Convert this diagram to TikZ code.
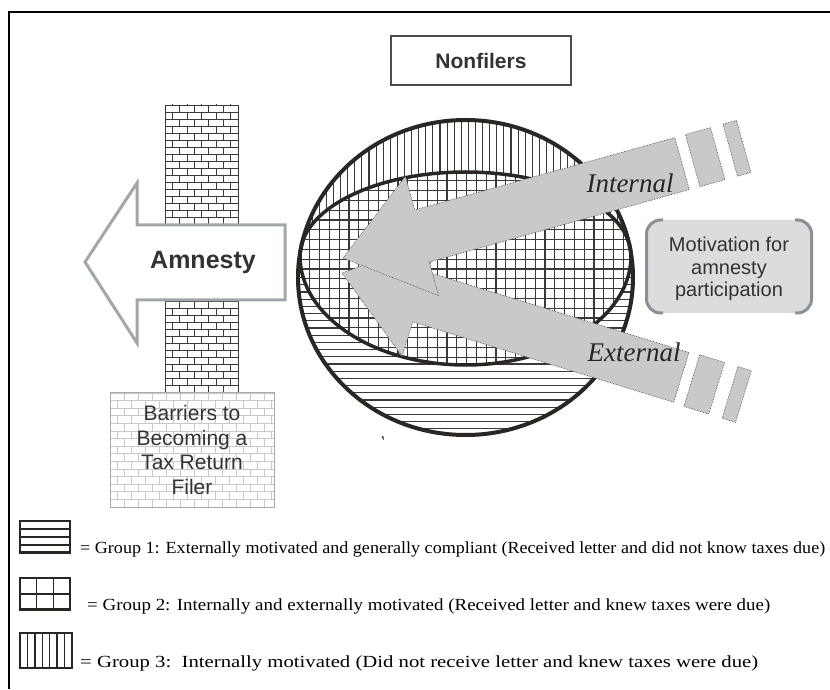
\documentclass[tikz,border=0pt]{standalone}
\usepackage{fontspec}
\newfontfamily\sansf{Liberation Sans}
\newfontfamily\legendfont{Liberation Serif}
\usetikzlibrary{calc}
\definecolor{outlinec}{HTML}{2A2624}
\definecolor{hatchc}{HTML}{3C3838}
\definecolor{arrowfillc}{HTML}{C9C9C9}
\definecolor{amnestyc}{HTML}{A2A7AC}
\definecolor{bracketc}{HTML}{8A9098}
\definecolor{motfillc}{HTML}{DCDCDE}
\definecolor{textgrayc}{HTML}{333333}
\definecolor{lightbrickc}{HTML}{C8C8C8}
\definecolor{darkbrickc}{HTML}{3A3A3A}
\newcommand{\legendtext}[2]{\resizebox{#1}{\height}{#2}}
\tikzset{
  x=1pt,y=1pt,
  hatchline/.style={draw=hatchc,line width=1.1pt},
  gridline/.style={draw=hatchc,line width=1.1pt},
  darkbrick/.style={draw=darkbrickc,line width=0.8pt},
  lightbrick/.style={draw=lightbrickc,line width=0.8pt},
  bigcircle/.style={draw=outlinec,line width=4pt},
  innerarc/.style={draw=outlinec,line width=3.5pt},
  motarrow/.style={fill=arrowfillc,draw=darkbrickc,densely dotted,line width=0.6pt},
  sanslabel/.style={font=\sansf\fontsize{21}{24.5}\selectfont,text=textgrayc,align=center},
  italiclabel/.style={font=\legendfont\itshape\fontsize{27}{30}\selectfont,text=black!85},
  legendtxt/.style={anchor=base west,inner sep=0pt,font=\legendfont\fontsize{17}{19}\selectfont},
  swatch/.style={draw=outlinec,line width=2.5pt},
  swatchin/.style={draw=outlinec,line width=1.4pt},
}
\begin{document}
\begin{tikzpicture}
\useasboundingbox (0,0) rectangle (830,689);
\fill[white] (0,0) rectangle (830,689);
% frame
\draw[line width=2.5pt] (9,0) -- (9,677) -- (830,677);

% Nonfilers
\node[draw=black!70,line width=1.3pt,minimum width=180pt,minimum height=49pt,
  font=\sansf\bfseries\fontsize{21}{24}\selectfont,text=textgrayc] (nonfilers) at (481,628.5) {Nonfilers};

% dark brick column
\begin{scope}
\clip (165,297) rectangle (238,584);
\foreach \i in {0,...,41} {
  \pgfmathsetmacro\rowy{297+7*\i}
  \pgfmathsetmacro\bxoff{mod(\i,2)*7.3}
  \draw[darkbrick] (165,\rowy) -- (238,\rowy);
  \foreach \k in {0,...,5} {\draw[darkbrick] ({165+\bxoff+14.6*\k},\rowy) -- ++(0,7);}
}
\end{scope}
\draw[darkbrick] (165,297) rectangle (238,584);

% light brick box
\begin{scope}
\clip (110,182) rectangle (274,296);
\foreach \i in {0,...,15} {
  \pgfmathsetmacro\rowy{182+7.6*\i}
  \pgfmathsetmacro\bxoff{mod(\i,2)*7}
  \draw[lightbrick] (110,\rowy) -- (274,\rowy);
  \foreach \k in {0,...,12} {\draw[lightbrick] ({110+\bxoff+14*\k},\rowy) -- ++(0,7.6);}
}
\end{scope}
\draw[draw=lightbrickc!85!black,line width=1pt] (110,182) rectangle (274,296);
\node[sanslabel] (barriers) at (192,239) {Barriers to\\Becoming a\\Tax Return\\Filer};

% Amnesty arrow
\draw[draw=amnestyc,fill=white,line width=3pt,line join=miter]
  (85,427) -- (137,506) -- (137,464) -- (285,464) -- (285,389) -- (137,389) -- (137,346) -- cycle;
\node[font=\sansf\bfseries\fontsize{25}{28}\selectfont,text=textgrayc] (amnesty) at (203,427) {Amnesty};

% circle hatching
\begin{scope}
\clip (465.5,411.5) ellipse [x radius=167.5, y radius=157.5];
\foreach \x in {0,...,48} \draw[hatchline] ({298+7.1*\x},433) -- ({298+7.1*\x},575);
\foreach \y in {0,...,27} \draw[hatchline] (290,{433-7.2*\y}) -- (640,{433-7.2*\y});
\end{scope}
% lens (group 2 grid)
\fill[white] (300,433) arc[start angle=180,end angle=0,x radius=165.5,y radius=84]
  arc[start angle=0,end angle=-180,x radius=165.5,y radius=109] -- cycle;
\begin{scope}
\clip (300,433) arc[start angle=180,end angle=0,x radius=165.5,y radius=84]
  arc[start angle=0,end angle=-180,x radius=165.5,y radius=109] -- cycle;
\foreach \x in {0,...,34} \draw[gridline] ({300+9.8*\x},320) -- ({300+9.8*\x},520);
\foreach \y in {0,...,21} \draw[gridline] (295,{322+9.8*\y}) -- (640,{322+9.8*\y});
\end{scope}
\draw[innerarc] (300,433) arc[start angle=180,end angle=0,x radius=165.5,y radius=84];
\draw[innerarc] (300,433) arc[start angle=180,end angle=360,x radius=165.5,y radius=109];
\draw[bigcircle] (465.5,411.5) ellipse [x radius=167.5, y radius=157.5];
\draw[line width=1.2pt,outlinec] (382.6,253) -- (383.4,249.5);

% External arrow
\begin{scope}[shift={(342,416)},rotate=-17.1]
\path[motarrow] (0,0) -- (82,62) -- (82,26) -- (355,26) -- (355,-26) -- (82,-26) -- (82,-62) -- cycle;
\path[motarrow] (366,-27) rectangle (392,27);
\path[motarrow] (406,-27) rectangle (420,27);
\end{scope}
% Internal arrow
\begin{scope}[shift={(343,431)},rotate=15.56]
\path[motarrow] (0,0) -- (82,62) -- (82,27) -- (352,27) -- (352,-27) -- (82,-27) -- (82,-62) -- cycle;
\path[motarrow] (363,-27) rectangle (389,27);
\path[motarrow] (402,-27) rectangle (416,27);
\end{scope}
\node[italiclabel] (internal) at (630,506) {Internal};
\node[italiclabel] (external) at (634,337) {External};

% Motivation box
\fill[motfillc] (645,376) [rounded corners=14pt] rectangle (813,469);
\draw[draw=bracketc,line width=3pt,rounded corners=14pt] (663,469) -- (646.5,469) -- (646.5,376) -- (663,376);
\draw[draw=bracketc,line width=3pt,rounded corners=14pt] (795,469) -- (811.5,469) -- (811.5,376) -- (795,376);
\node[font=\sansf\fontsize{20}{22.5}\selectfont,text=textgrayc,align=center] (motivation) at (729,420) {Motivation for\\amnesty\\participation};

% Legend
\draw[swatch] (20,136) rectangle (70,168);
\foreach \y in {144,152,160} \draw[swatchin] (20,\y) -- (70,\y);
\draw[line width=1.5pt,outlinec] (20,137.5) -- (70,137.5);
\node[legendtxt] (g1) at (80,136) {\legendtext{745pt}{= Group 1: Externally motivated and generally compliant (Received letter and did not know taxes due)}};

\draw[swatch] (20,79) rectangle (70,111);
\foreach \x in {36.7,53.3} \draw[swatchin] (\x,79) -- (\x,111);
\draw[swatchin] (20,95) -- (70,95);
\draw[line width=1.5pt,outlinec] (20,80.5) -- (70,80.5);
\node[legendtxt] (g2) at (87,79) {\legendtext{683pt}{= Group 2: Internally and externally motivated (Received letter and knew taxes were due)}};

\draw[swatch] (20,21) rectangle (72,56);
\foreach \x in {1,...,6} \draw[swatchin] ({20+52/7*\x},21) -- ({20+52/7*\x},56);
\node[legendtxt] (g3) at (80,22) {\legendtext{678pt}{= Group 3:\ \ Internally motivated (Did not receive letter and knew taxes were due)}};
\end{tikzpicture}
\end{document}
